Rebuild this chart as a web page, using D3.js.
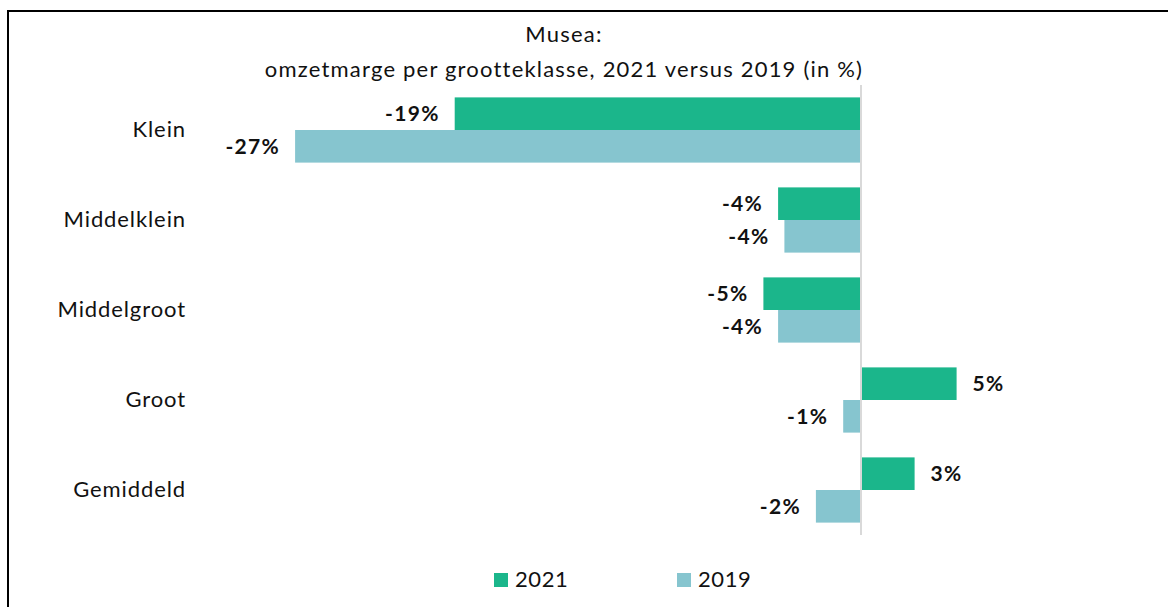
<!DOCTYPE html>
<html>
<head>
<meta charset="utf-8">
<script src="https://cdn.jsdelivr.net/npm/d3@7"></script>
<style>
  html, body { margin: 0; padding: 0; background: #fff; }
  svg { display: block; font-family: Lato, "Open Sans", sans-serif; }
</style>
</head>
<body>
<svg id="chart" width="1168" height="607"></svg>
<script>
// Omzetmarge per grootteklasse (in %)
const categories = ["Klein", "Middelklein", "Middelgroot", "Groot", "Gemiddeld"];
const seriesNames = ["2021", "2019"];
const values2021 = [-19.3, -3.9, -4.6, 4.6, 2.6];
const values2019 = [-26.9, -3.6, -3.9, -0.8, -2.1];
const seriesColors = ["#1bb68b", "#86c5cf"];
const titleLines = ["Musea:", "omzetmarge per grootteklasse, 2021 versus 2019 (in %)"];

const svg = d3.select("#chart");

// outer frame
svg.append("rect")
  .attr("x", 8).attr("y", 11)
  .attr("width", 1300).attr("height", 800)
  .attr("fill", "none").attr("stroke", "#000").attr("stroke-width", 2);

// title
svg.append("g").selectAll("text").data(titleLines).join("text")
  .attr("x", 564).attr("y", (d, i) => 33 + i * 35)
  .attr("text-anchor", "middle").attr("dominant-baseline", "central")
  .attr("font-size", 22).attr("letter-spacing", 1.2).attr("fill", "#111")
  .text(d => d);

const x = d3.scaleLinear().domain([-30, 10]).range([230, 1070]);
const y0 = d3.scaleBand().domain(categories).range([85, 535]);
const y1 = d3.scaleBand().domain(seriesNames).range([0, y0.bandwidth()]).paddingInner(0).paddingOuter(0.38);

const rows = categories.map((c, i) => ({ cat: c, vals: [values2021[i], values2019[i]] }));

const groups = svg.append("g").selectAll("g").data(rows).join("g")
  .attr("transform", d => `translate(0,${y0(d.cat)})`);

groups.selectAll("rect").data(d => d.vals.map((v, j) => ({ v, s: seriesNames[j], j })))
  .join("rect")
  .attr("x", d => x(Math.min(0, d.v)))
  .attr("width", d => Math.abs(x(d.v) - x(0)))
  .attr("y", d => y1(d.s))
  .attr("height", y1.bandwidth())
  .attr("fill", d => seriesColors[d.j]);

const fmt = v => d3.format(".0f")(v).replace("\u2212", "-") + "%";
groups.selectAll("text").data(d => d.vals.map((v, j) => ({ v, s: seriesNames[j] })))
  .join("text")
  .attr("x", d => d.v < 0 ? x(d.v) - 15 : x(d.v) + 16)
  .attr("y", d => y1(d.s) + y1.bandwidth() / 2 - 1)
  .attr("text-anchor", d => d.v < 0 ? "end" : "start")
  .attr("dominant-baseline", "central")
  .attr("font-size", 21).attr("font-weight", "bold").attr("letter-spacing", 1.3).attr("fill", "#111")
  .text(d => fmt(d.v));

// category axis labels
svg.append("g").selectAll("text").data(categories).join("text")
  .attr("x", 186).attr("y", d => y0(d) + y0.bandwidth() / 2 - 2)
  .attr("text-anchor", "end").attr("dominant-baseline", "central")
  .attr("font-size", 22).attr("letter-spacing", 0.9).attr("fill", "#111")
  .text(d => d);

// zero line
svg.append("line")
  .attr("x1", x(0) + 1).attr("x2", x(0) + 1)
  .attr("y1", 85).attr("y2", 535)
  .attr("stroke", "#d9d9d9").attr("stroke-width", 2);

// legend
const legendX = [494, 677];
const legend = svg.append("g").selectAll("g").data(seriesNames).join("g")
  .attr("transform", (d, i) => `translate(${legendX[i]},573)`);
legend.append("rect").attr("width", 14).attr("height", 14)
  .attr("fill", (d, i) => seriesColors[i]);
legend.append("text").attr("x", 21).attr("y", 5.5)
  .attr("dominant-baseline", "central")
  .attr("font-size", 22).attr("letter-spacing", 0.6).attr("fill", "#111")
  .text(d => d);
</script>
</body>
</html>
